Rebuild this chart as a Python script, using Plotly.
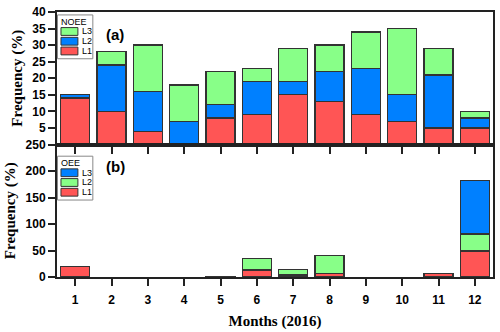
import plotly.graph_objects as go
from plotly.subplots import make_subplots

months = list(range(1, 13))

# (a) NOEE
noee_l1 = [14, 10, 4, 0, 8, 9, 15, 13, 9, 7, 5, 5]
noee_l2 = [1, 14, 12, 7, 4, 10, 4, 9, 14, 8, 16, 3]
noee_l3 = [0, 4, 14, 11, 10, 4, 10, 8, 11, 20, 8, 2]

# (b) OEE
oee_l1 = [20, 0, 0, 0, 0.8, 13, 4, 6, 0, 0, 7, 49]
oee_l2 = [0, 0, 0, 0, 0, 22, 10, 35, 0, 0, 0, 32]
oee_l3 = [0, 0, 0, 0, 0, 0, 0, 0, 0, 0, 0, 101]

red = "#FF5555"
blue = "#0080FF"
green = "#88FF88"
edge = dict(color="#333333", width=1.3)

series_a = [("L1", noee_l1, red), ("L2", noee_l2, blue), ("L3", noee_l3, green)]
series_b = [("L1", oee_l1, red), ("L2", oee_l2, green), ("L3", oee_l3, blue)]

fig = make_subplots(rows=2, cols=1, shared_xaxes=True, vertical_spacing=0)

for row, series in [(1, series_a), (2, series_b)]:
    for name, vals, col in series:
        # empty segments are left out so they don't draw an outline at zero
        fig.add_trace(go.Bar(x=months, y=[v if v else None for v in vals], name=name,
                             marker=dict(color=col, line=edge), width=0.8, showlegend=False),
                      row=row, col=1)

tickfont = dict(family="Liberation Sans, Arial", size=12, color="black", weight="bold")
titlefont = dict(family="Liberation Serif, Times New Roman", size=15, color="black", weight="bold")
axis_common = dict(showline=True, linecolor="#222222", linewidth=2, ticks="outside",
                   ticklen=7, tickwidth=1.5, tickcolor="#222222", tickfont=tickfont,
                   showgrid=False, zeroline=False, mirror=True)

fig.update_xaxes(range=[0.5, 12.5], tickvals=months, **axis_common)
fig.update_xaxes(showticklabels=False, row=1, col=1)
fig.update_xaxes(title=dict(text="Months (2016)", font=titlefont, standoff=9),
                 ticklabelstandoff=4, row=2, col=1)

fig.update_yaxes(range=[0, 40], tickvals=list(range(5, 41, 5)),
                 title=dict(text="Frequency (%)", font=titlefont, standoff=6),
                 row=1, col=1, **axis_common)
fig.update_yaxes(range=[0, 250], tickvals=list(range(0, 251, 50)),
                 title=dict(text="Frequency (%)", font=titlefont, standoff=6),
                 row=2, col=1, **axis_common)

# plot area in pixels, used to place the small legend boxes
PL, PR, PT, PB = 57, 495, 9, 281


def px(x):
    return (x - PL) / (PR - PL)


def py(y):
    return (PB - y) / (PB - PT)


shapes = []
annotations = []
small = dict(family="Liberation Sans, Arial", size=9, color="black")
for title, series, top in [("NOEE", series_a, 12), ("OEE", series_b, 157)]:
    shapes.append(dict(type="rect", xref="paper", yref="paper", layer="above",
                       x0=px(57.5), x1=px(93), y0=py(top), y1=py(top + 45),
                       line=dict(color="#888888", width=1), fillcolor="white"))
    annotations.append(dict(text=title, x=px(59), y=py(top + 7), xref="paper", yref="paper",
                            showarrow=False, xanchor="left", yanchor="middle", font=small))
    for i, (name, vals, col) in enumerate(reversed(series)):
        y0 = top + 13 + i * 10
        shapes.append(dict(type="rect", xref="paper", yref="paper", layer="above",
                           x0=px(61), x1=px(78), y0=py(y0), y1=py(y0 + 8),
                           line=dict(color="#333333", width=1), fillcolor=col))
        annotations.append(dict(text=name, x=px(80), y=py(y0 + 4), xref="paper", yref="paper",
                                showarrow=False, xanchor="left", yanchor="middle", font=small))

panel_font = dict(family="Liberation Sans, Arial", size=15, color="black", weight="bold")
annotations.append(dict(text="(a)", x=px(104), y=py(21), xref="paper", yref="paper",
                        showarrow=False, font=panel_font))
annotations.append(dict(text="(b)", x=px(104), y=py(168), xref="paper", yref="paper",
                        showarrow=False, font=panel_font))

fig.update_layout(
    barmode="stack",
    width=500, height=332,
    margin=dict(l=PL, r=500 - PR, t=PT, b=332 - PB),
    plot_bgcolor="white", paper_bgcolor="white",
    showlegend=False,
    shapes=shapes,
    annotations=annotations,
)

fig.write_html("out.html", config={"displayModeBar": False},
               post_script="document.body.style.margin='0';")
